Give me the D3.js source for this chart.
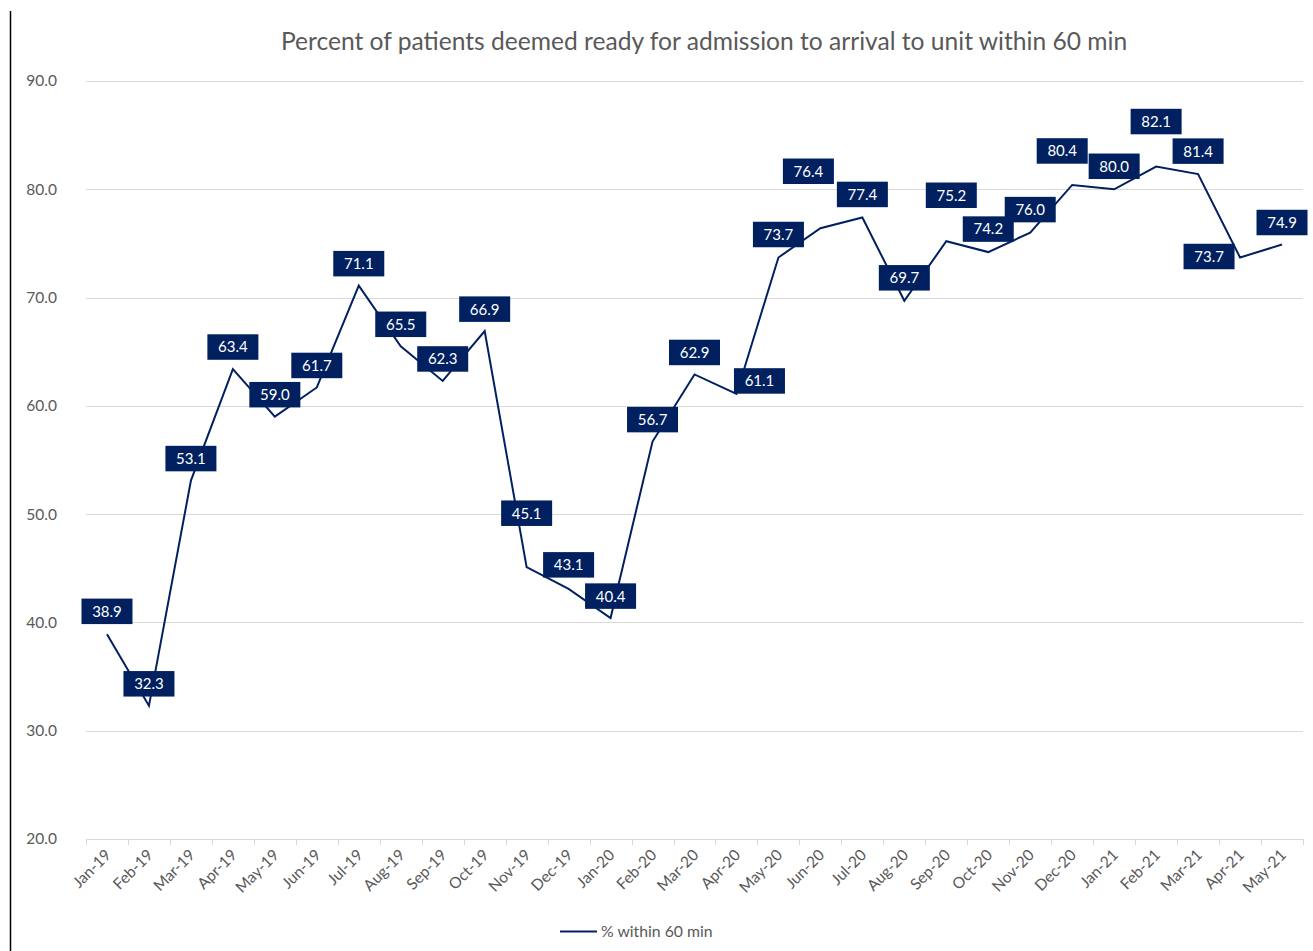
<!DOCTYPE html>
<html>
<head>
<meta charset="utf-8">
<script src="https://cdn.jsdelivr.net/npm/d3@7"></script>
<style>
  html, body { margin: 0; padding: 0; background: #fff; }
  svg { display: block; font-family: Lato, "Open Sans", sans-serif; }
</style>
</head>
<body>
<svg id="chart" width="1313" height="951"></svg>
<script>
// Monthly share of patients reaching the unit within 60 minutes of being deemed ready
const months = ["Jan-19","Feb-19","Mar-19","Apr-19","May-19","Jun-19","Jul-19","Aug-19","Sep-19","Oct-19",
  "Nov-19","Dec-19","Jan-20","Feb-20","Mar-20","Apr-20","May-20","Jun-20","Jul-20","Aug-20",
  "Sep-20","Oct-20","Nov-20","Dec-20","Jan-21","Feb-21","Mar-21","Apr-21","May-21"];
const pctWithin60 = [38.9,32.3,53.1,63.4,59.0,61.7,71.1,65.5,62.3,66.9,
  45.1,43.1,40.4,56.7,62.9,61.1,73.7,76.4,77.4,69.7,
  75.2,74.2,76.0,80.4,80.0,82.1,81.4,73.7,74.9];
const yTicks = [20,30,40,50,60,70,80,90];
const seriesName = "% within 60 min";
const title = "Percent of patients deemed ready for admission to arrival to unit within 60 min";

// Data-label placement (pixel offsets of each label box from its point)
const labelOffsets = [
  [0,-23],[0,-22],[0,-22],[0,-22],[0,-22],[0,-22],[0,-22],[0,-22],[0,-22],[0,-22],
  [0,-54],[0,-24],[0,-22],[0,-22],[0,-22],[23,-13],[0,-23],[-12,-57],[0,-23],[0,-23],
  [5,-46],[0,-23],[0,-23],[-10,-34],[0,-23],[0,-45],[0,-23],[-31,-1],[0,-22]
];

const svg = d3.select("#chart");
const plot = { left: 86, right: 1303, top: 81, bottom: 839 };
const navy = "#002060";
const grey = "#595959";

const x = d3.scaleBand().domain(months).range([plot.left, plot.right]).padding(0);
const y = d3.scaleLinear().domain([20, 90]).range([plot.bottom, plot.top]);
const cx = m => x(m) + x.bandwidth() / 2;

// Frame line at the left edge
svg.append("line").attr("x1", 10.5).attr("x2", 10.5).attr("y1", 11).attr("y2", 951)
  .attr("stroke", "#000").attr("stroke-width", 1.5);

// Title
svg.append("text").attr("x", 704).attr("y", 50).attr("text-anchor", "middle")
  .attr("fill", grey).attr("font-size", 24.6).text(title);

// Horizontal gridlines
svg.append("g").selectAll("line").data(yTicks.filter(t => t > 20)).join("line")
  .attr("x1", plot.left).attr("x2", plot.right)
  .attr("y1", d => Math.round(y(d)) + 0.5).attr("y2", d => Math.round(y(d)) + 0.5)
  .attr("stroke", "#d9d9d9").attr("stroke-width", 1);

// Y axis labels
const yAxis = d3.axisLeft(y).tickValues(yTicks).tickFormat(d3.format(".1f")).tickSize(0).tickPadding(0);
const gy = svg.append("g").attr("transform", `translate(57,0)`).call(yAxis);
gy.select(".domain").remove();
gy.selectAll("text").attr("fill", grey).attr("font-size", 15.5).attr("font-family", "Lato, sans-serif");

// X axis with ticks at category boundaries
const xAxis = d3.axisBottom(x).tickSize(0).tickFormat(d => d);
const gx = svg.append("g").attr("transform", `translate(0,${plot.bottom})`).call(xAxis);
gx.select(".domain").attr("stroke", "#d9d9d9").attr("d", `M${plot.left},0.5H${plot.right}`);
gx.selectAll(".tick line").remove();
gx.selectAll(".tick text")
  .attr("fill", grey).attr("font-size", 15.5).attr("font-family", "Lato, sans-serif")
  .attr("text-anchor", "end").attr("dy", 0).attr("y", 0)
  .attr("transform", "translate(5,17) rotate(-45)");
const boundaries = months.map(m => x(m)).concat([plot.right]);
gx.append("g").selectAll("line").data(boundaries).join("line")
  .attr("x1", d => Math.round(d) + 0.5).attr("x2", d => Math.round(d) + 0.5)
  .attr("y1", 0).attr("y2", 6).attr("stroke", "#d9d9d9");

// Series line
const line = d3.line().x((d, i) => cx(months[i])).y(d => y(d));
svg.append("path").datum(pctWithin60).attr("d", line)
  .attr("fill", "none").attr("stroke", navy).attr("stroke-width", 2).attr("stroke-linejoin", "miter");

// Data labels
const bw = 51, bh = 25.5;
const labels = svg.append("g").selectAll("g").data(pctWithin60).join("g")
  .attr("transform", (d, i) => `translate(${cx(months[i]) + labelOffsets[i][0]},${y(d) + labelOffsets[i][1]})`);
labels.append("rect").attr("x", -bw / 2).attr("y", -bh / 2).attr("width", bw).attr("height", bh)
  .attr("fill", navy);
labels.append("text").attr("text-anchor", "middle").attr("dy", "0.36em")
  .attr("fill", "#fff").attr("font-size", 15).text(d => d3.format(".1f")(d));

// Legend
const lg = svg.append("g");
lg.append("line").attr("x1", 560).attr("x2", 597).attr("y1", 931.5).attr("y2", 931.5)
  .attr("stroke", navy).attr("stroke-width", 2);
lg.append("text").attr("x", 601).attr("y", 937).attr("fill", grey).attr("font-size", 15.8).text(seriesName);
</script>
</body>
</html>
